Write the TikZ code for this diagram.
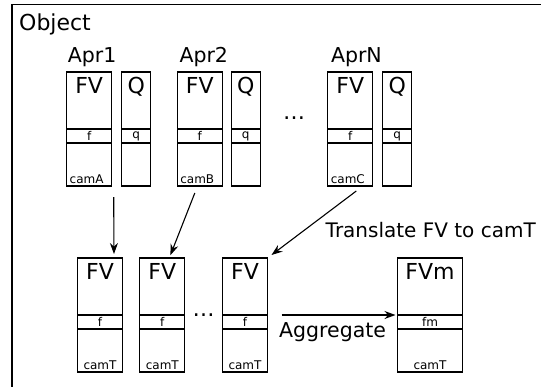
\documentclass[tikz,border=0pt]{standalone}
\usepackage{fontspec}
\setmainfont{DejaVu Sans}
\usetikzlibrary{positioning,arrows.meta,calc}

\begin{document}
\begin{tikzpicture}[x=1pt, y=-1pt,
        cell/.style={draw, fill=white, line width=1.1pt, inner sep=0pt, outer sep=0pt},
        head/.style={cell, minimum width=45pt, text height=21.5pt, text depth=35.5pt, font=\fontsize{22}{22}\selectfont},
        qhead/.style={head, minimum width=29pt},
        band/.style={cell, minimum width=45pt, minimum height=14pt, font=\fontsize{12}{12}\selectfont},
        qband/.style={band, minimum width=29pt},
        cam/.style={cell, inner xsep=3pt, text width=39pt, align=left, text height=40pt, text depth=3pt, font=\fontsize{12}{12}\selectfont},
        camT/.style={cam, align=center},
        qcam/.style={cell, minimum width=29pt, minimum height=43pt},
        title/.style={inner sep=0pt, font=\fontsize{20.5}{20.5}\selectfont},
        dotsep/.style={inner sep=0pt, anchor=base, font=\fontsize{22}{22}\selectfont},
        link/.style={-{Stealth[length=11pt, width=8pt]}, line width=1.1pt}
    ]
        \useasboundingbox (0,0) rectangle (541,386);
        \clip (0,0) rectangle (541,386);

        % outer object frame
        \node[cell, fill=none, line width=1.5pt, minimum width=700pt, minimum height=500pt, anchor=north west] (object) at (12,4.5) {};
        \node[title, font=\fontsize{22}{22}\selectfont, anchor=base west] (objname) at ($(object.north west)+(7,25.5)$) {Object};

        % appearances
        \node[head, anchor=north] (fv1) at (89.2,72) {FV};
        \node[band, below=0pt of fv1] (fv1f) {f};
        \node[cam, below=0pt of fv1f] (fv1c) {camA};
        \node[qhead, right=10pt of fv1] (q1) {Q};
        \node[qband, below=0pt of q1] (q1f) {q};
        \node[qcam, below=0pt of q1f] (q1c) {};
        \node[title, above right=5pt and 1pt of fv1.north west] (apr1) {Apr1};

        \node[head, right=26.6pt of q1] (fv2) {FV};
        \node[band, below=0pt of fv2] (fv2f) {f};
        \node[cam, below=0pt of fv2f] (fv2c) {camB};
        \node[qhead, right=9pt of fv2] (q2) {Q};
        \node[qband, below=0pt of q2] (q2f) {q};
        \node[qcam, below=0pt of q2f] (q2c) {};
        \node[title, above right=5pt and 2pt of fv2.north west] (apr2) {Apr2};

        \node[head, right=67.5pt of q2] (fvN) {FV};
        \node[band, below=0pt of fvN] (fvNf) {f};
        \node[cam, below=0pt of fvNf] (fvNc) {camC};
        \node[qhead, right=10pt of fvN] (qN) {Q};
        \node[qband, below=0pt of qN] (qNf) {q};
        \node[qcam, below=0pt of qNf] (qNc) {};
        \node[title, above right=5pt and 3pt of fvN.north west] (aprN) {AprN};

        \node[dotsep] (dots1) at ($(q2.east)!0.5!(fvN.west)+(0,19)$) {…};

        % translated to camT
        \node[head, anchor=north] (b1) at (100,258) {FV};
        \node[band, below=0pt of b1] (b1f) {f};
        \node[camT, below=0pt of b1f] (b1c) {camT};

        \node[head, right=17.3pt of b1] (b2) {FV};
        \node[band, below=0pt of b2] (b2f) {f};
        \node[camT, below=0pt of b2f] (b2c) {camT};

        \node[head, right=37.7pt of b2] (b3) {FV};
        \node[band, below=0pt of b3] (b3f) {f};
        \node[camT, below=0pt of b3f] (b3c) {camT};

        \node[dotsep] (dots2) at ($(b2f.north east)!0.5!(b3f.north west)+(0,1.5)$) {…};

        \node[head, minimum width=65pt, right=130pt of b3] (fvm) {FVm};
        \node[band, minimum width=65pt, below=0pt of fvm] (fvmf) {fm};
        \node[camT, text width=59pt, below=0pt of fvmf] (fvmc) {camT};

        \node[title, font=\fontsize{20}{20}\selectfont, anchor=base west] (translate) at (325.5,237) {Translate FV to camT};

        \draw[link, shorten >=4pt] ($(fv1c.south east)+(2,11)$) -- ($(b1.north)+(14,0)$);
        \draw[link, shorten >=3pt] ($(fv2c.south)+(-5,7)$) -- ($(b2.north)+(7,0)$);
        \draw[link, shorten >=5pt] ($(fvNc.south)+(6,5)$) -- (b3.north east);
        \draw[link, shorten >=2pt] ($(b3f.north east)+(14,0)$) -- (fvmf.north west)
            node[title, below=7pt, pos=0.44] (aggregate) {Aggregate};
    \end{tikzpicture}
\end{document}
